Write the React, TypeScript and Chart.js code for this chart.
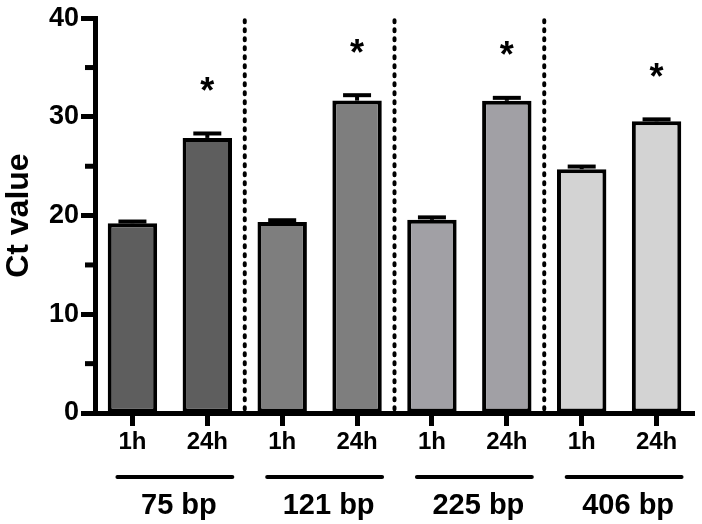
import React, { useEffect, useRef } from "react";
import { Chart, registerables } from "chart.js";

Chart.register(...registerables);

const categories = ["1h", "24h", "1h", "24h", "1h", "24h", "1h", "24h"];
const groupLabels = ["75 bp", "121 bp", "225 bp", "406 bp"];
const ctValues = [19.23, 27.87, 19.35, 31.65, 19.57, 31.63, 24.7, 29.55];
const ctErrors = [0.17, 0.45, 0.18, 0.55, 0.25, 0.3, 0.27, 0.2];
const significant = [false, true, false, true, false, true, false, true];
const groupColors = ["#5e5e5e", "#7e7e7e", "#a1a0a5", "#d3d3d3"];
const minorTicks = [5, 15, 25, 35];

const FONT = "'Liberation Sans', Arial, sans-serif";

const overlayPlugin = {
  id: "overlay",
  afterDatasetsDraw(chart: any) {
    const ctx = chart.ctx;
    const xs = chart.scales.x;
    const ys = chart.scales.y;
    const area = chart.chartArea;
    const meta = chart.getDatasetMeta(0);
    ctx.save();
    meta.data.forEach((bar: any, i: number) => {
      const cx = bar.x;
      const top = ys.getPixelForValue(ctValues[i] + ctErrors[i]);
      ctx.strokeStyle = "#000";
      ctx.lineWidth = 4;
      ctx.beginPath();
      ctx.moveTo(cx, bar.y);
      ctx.lineTo(cx, top);
      ctx.stroke();
      ctx.lineWidth = 4;
      ctx.beginPath();
      ctx.moveTo(cx - 14, top);
      ctx.lineTo(cx + 14, top);
      ctx.stroke();
      if (significant[i]) {
        const fs = 36;
        ctx.font = `bold ${fs}px ${FONT}`;
        ctx.fillStyle = "#000";
        ctx.textAlign = "center";
        ctx.textBaseline = "alphabetic";
        const cy = top - 51;
        ctx.fillText("*", cx, cy + 0.57 * fs);
      }
    });
    ctx.lineWidth = 4;
    ctx.lineCap = "round";
    ctx.setLineDash([2, 7]);
    for (let g = 1; g < groupLabels.length; g++) {
      const px = (xs.getPixelForValue(2 * g - 1) + xs.getPixelForValue(2 * g)) / 2;
      ctx.beginPath();
      ctx.moveTo(px, area.top + 2);
      ctx.lineTo(px, area.bottom - 3);
      ctx.stroke();
    }
    ctx.setLineDash([]);
    ctx.restore();
  },
  afterDraw(chart: any) {
    const ctx = chart.ctx;
    const xs = chart.scales.x;
    const ys = chart.scales.y;
    const area = chart.chartArea;
    ctx.save();
    ctx.strokeStyle = "#000";
    ctx.lineWidth = 5;
    minorTicks.forEach((v) => {
      const py = ys.getPixelForValue(v);
      ctx.beginPath();
      ctx.moveTo(area.left, py);
      ctx.lineTo(area.left - 10, py);
      ctx.stroke();
    });
    groupLabels.forEach((lab, g) => {
      const x1 = xs.getPixelForValue(2 * g) - 15;
      const x2 = xs.getPixelForValue(2 * g + 1) + 25;
      const ly = area.bottom + 64;
      ctx.lineWidth = 4;
      ctx.lineCap = "round";
      ctx.beginPath();
      ctx.moveTo(x1, ly);
      ctx.lineTo(x2, ly);
      ctx.stroke();
      ctx.font = `bold 29px ${FONT}`;
      ctx.fillStyle = "#000";
      ctx.textAlign = "center";
      ctx.textBaseline = "middle";
      ctx.fillText(lab, (x1 + x2) / 2 + 4, area.bottom + 93);
    });
    ctx.translate(19, (area.top + area.bottom) / 2);
    ctx.rotate(-Math.PI / 2);
    ctx.font = `bold 32px ${FONT}`;
    ctx.textAlign = "center";
    ctx.textBaseline = "middle";
    ctx.fillText("Ct value", 0, 0);
    ctx.restore();
  },
};

export default function App() {
  const ref = useRef<HTMLCanvasElement | null>(null);
  useEffect(() => {
    if (!ref.current) return;
    const colors = categories.map((_, i) => groupColors[Math.floor(i / 2)]);
    const chart = new Chart(ref.current, {
      type: "bar",
      data: {
        labels: categories,
        datasets: [
          {
            data: ctValues,
            backgroundColor: colors,
            borderColor: "#000",
            borderWidth: 4,
            borderSkipped: false,
            barPercentage: 0.66,
            categoryPercentage: 1,
          },
        ],
      },
      options: {
        animation: false,
        responsive: false,
        devicePixelRatio: 1,
        layout: { padding: { top: 15, right: 8, left: 0, bottom: 0 } },
        plugins: { legend: { display: false }, tooltip: { enabled: false } },
        scales: {
          x: {
            offset: true,
            grid: {
              display: true,
              drawOnChartArea: false,
              drawTicks: true,
              offset: false,
              tickLength: 13,
              tickWidth: 5,
              color: "#000",
            },
            border: { display: true, width: 5, color: "#000" },
            ticks: {
              color: "#000",
              padding: 2,
              font: { family: FONT, size: 24, weight: "bold" },
            },
            afterFit: (s: any) => {
              s.height = 111;
            },
          },
          y: {
            min: 0,
            max: 40,
            grid: {
              display: true,
              drawOnChartArea: false,
              drawTicks: true,
              tickLength: 14,
              tickWidth: 5,
              color: "#000",
            },
            border: { display: true, width: 5, color: "#000" },
            ticks: {
              stepSize: 10,
              color: "#000",
              padding: 2,
              font: { family: FONT, size: 27, weight: "bold" },
            },
            afterFit: (s: any) => {
              s.width = 95;
            },
          },
        },
      },
      plugins: [overlayPlugin],
    });
    return () => chart.destroy();
  }, []);
  return (
    <div style={{ position: "absolute", left: 0, top: 0, width: 702, height: 524, background: "#fff" }}>
      <canvas ref={ref} width={702} height={524} style={{ width: 702, height: 524, display: "block" }} />
    </div>
  );
}
